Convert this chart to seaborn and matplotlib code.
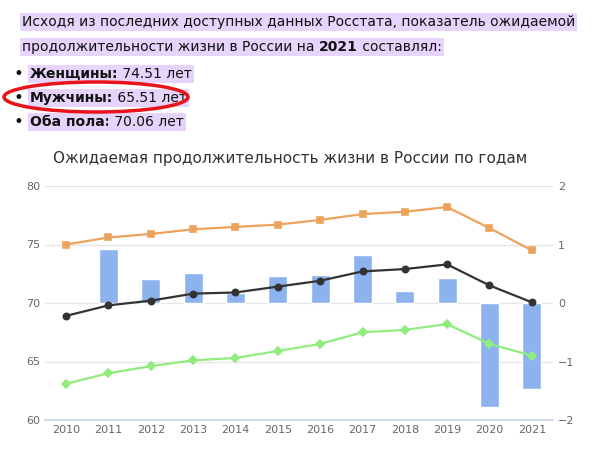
import matplotlib
matplotlib.use("Agg")
import matplotlib.pyplot as plt
import seaborn as sns
import pandas as pd
import numpy as np
from matplotlib.patches import Ellipse

years = [str(y) for y in range(2010, 2022)]
women = [75.0, 75.6, 75.9, 76.3, 76.5, 76.7, 77.1, 77.6, 77.8, 78.2, 76.4, 74.5]
both = [68.9, 69.8, 70.2, 70.8, 70.9, 71.4, 71.9, 72.7, 72.9, 73.3, 71.5, 70.06]
men = [63.1, 64.0, 64.6, 65.1, 65.3, 65.9, 66.5, 67.5, 67.7, 68.2, 66.5, 65.51]
change = [np.nan, 0.92, 0.41, 0.51, 0.17, 0.46, 0.48, 0.82, 0.20, 0.43, -1.78, -1.47]

sns.set_theme(style="white")
plt.rcParams['font.family'] = ['DejaVu Sans']

fig = plt.figure(figsize=(5.95, 4.49), dpi=100)
W, H = 595, 449
def fx(px): return px / W
def fy(py): return 1 - py / H

hl = "#e6d4fc"
fs = 10
fig.canvas.draw()
r = fig.canvas.get_renderer()

def seg_line(x, y, parts):
    for txt, bold in parts:
        t = fig.text(fx(x), fy(y), txt, fontsize=fs, va="center", ha="left",
                     fontweight="bold" if bold else "normal", color="#111",
                     bbox=dict(facecolor=hl, edgecolor="none", pad=1.5))
        bb = t.get_window_extent(renderer=r)
        x += bb.width

seg_line(22, 22, [("Исходя из последних доступных данных Росстата, показатель ожидаемой", False)])
seg_line(22, 47, [("продолжительности жизни в России на ", False), ("2021", True), (" составлял:", False)])
for y, a, b in [(74, "Женщины:", " 74.51 лет"), (98, "Мужчины:", " 65.51 лет"), (122, "Оба пола:", " 70.06 лет")]:
    fig.text(fx(14), fy(y), "•", fontsize=fs + 2, va="center", color="#111")
    seg_line(30, y, [(a, True), (b, False)])
el = Ellipse((fx(96), fy(97)), fx(184), 30 / H, transform=fig.transFigure,
             fill=False, edgecolor="#e8141a", lw=2.5, zorder=10)
fig.patches.append(el)

fig.text(fx(290), fy(158), "Ожидаемая продолжительность жизни в России по годам",
         fontsize=11, ha="center", va="center", color="#333")

ax = fig.add_axes([fx(45), fy(420), fx(508), 234 / H])
ax2 = ax.twinx()
df = pd.DataFrame({"year": years, "women": women, "both": both, "men": men, "change": change})

sns.barplot(data=df, x="year", y="change", order=years, color="#8db3ee", width=0.45,
            saturation=1, ax=ax2, zorder=2)
ax.set_zorder(ax2.get_zorder() + 1)
ax.patch.set_visible(False)
for col, c, m in [("women", "#eda35c", "s"), ("both", "#333333", "o"), ("men", "#90ed7d", "D")]:
    sns.pointplot(data=df, x="year", y=col, order=years, color=c, markers=m,
                  markersize=4.5, linewidth=1.6, ax=ax)

ax.set_ylim(60, 80)
ax.set_yticks([60, 65, 70, 75, 80])
ax2.set_ylim(-2, 2)
ax2.set_yticks([-2, -1, 0, 1, 2])
ax2.set_yticklabels(["−2", "−1", "0", "1", "2"])
ax.set_xlim(-0.5, 11.5)
ax.yaxis.grid(False)
ax2.yaxis.grid(True, color="#e6e6e6", lw=1)
ax2.set_axisbelow(True)
for a in (ax, ax2):
    a.set_xlabel(""); a.set_ylabel("")
    for s in a.spines.values():
        s.set_visible(False)
    a.tick_params(colors="#666666", labelsize=8, length=0)
ax.spines["bottom"].set_visible(True)
ax.spines["bottom"].set_color("#ccd6eb")

fig.savefig("out.png", dpi=100)
